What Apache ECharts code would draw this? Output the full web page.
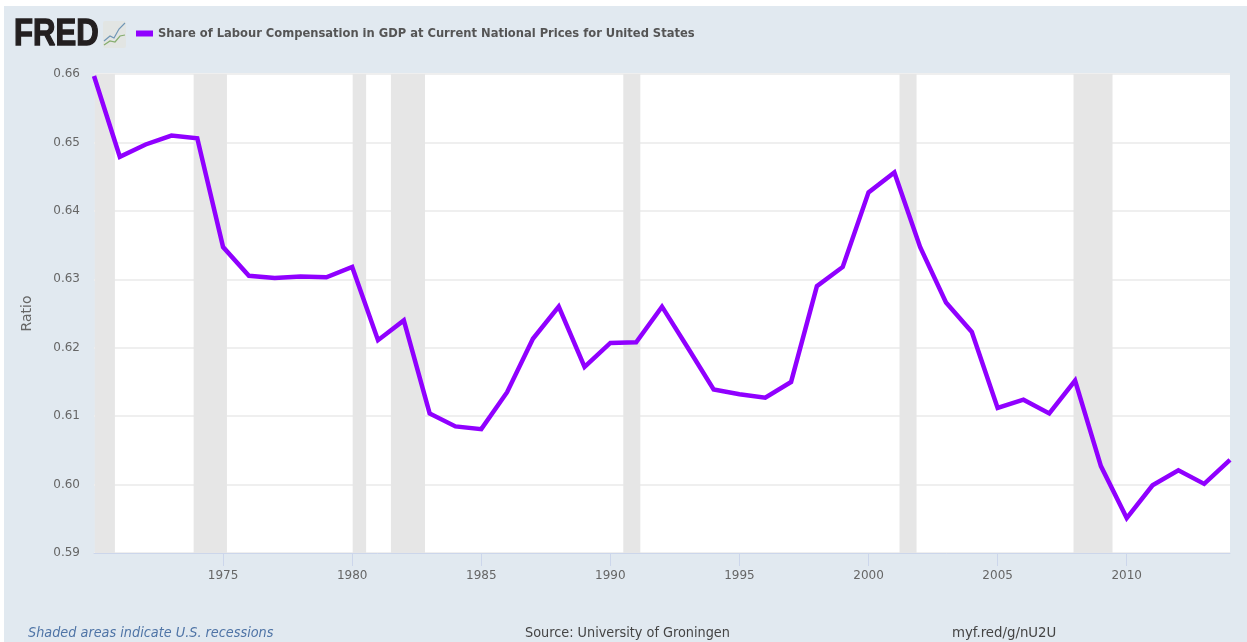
<!DOCTYPE html>
<html><head><meta charset="utf-8">
<style>html,body{margin:0;padding:0;background:#fff}#c{width:1247px;height:642px}</style>
<script src="https://cdn.jsdelivr.net/npm/echarts@6/dist/echarts.min.js"></script>
</head><body><div id="c"></div>
<script>
const years = [1970,1971,1972,1973,1974,1975,1976,1977,1978,1979,1980,1981,1982,1983,1984,1985,1986,1987,1988,1989,1990,1991,1992,1993,1994,1995,1996,1997,1998,1999,2000,2001,2002,2003,2004,2005,2006,2007,2008,2009,2010,2011,2012,2013,2014];
const shareValues = [0.6597,0.6479,0.6497,0.6510,0.6506,0.6347,0.6305,0.6302,0.6304,0.6303,0.6318,0.6211,0.6240,0.6104,0.6085,0.6081,0.6135,0.6213,0.6260,0.6172,0.6207,0.6208,0.6260,0.6200,0.6139,0.6132,0.6127,0.6150,0.6290,0.6318,0.6427,0.6456,0.6347,0.6266,0.6223,0.6112,0.6124,0.6104,0.6152,0.6027,0.5951,0.5999,0.6021,0.6001,0.6036];
const recessions = [[1970.03,1970.81],[1973.86,1975.15],[1980.02,1980.54],[1981.5,1982.82],[1990.5,1991.16],[2001.2,2001.86],[2007.94,2009.45]];
const seriesName = 'Share of Labour Compensation in GDP at Current National Prices for United States';
const chart = echarts.init(document.getElementById('c'));
chart.setOption({
  animation:false,
  backgroundColor:'#fff',
  textStyle:{fontFamily:'"DejaVu Sans"'},
  grid:{left:94,right:17,top:74,height:479,containLabel:false},
  legend:{left:131,top:22,icon:'rect',itemWidth:17,itemHeight:6,itemGap:6,
    textStyle:{fontFamily:'"DejaVu Sans Condensed","DejaVu Sans"',fontWeight:'bold',fontSize:12.8,color:'#555'},
    data:[seriesName]},
  xAxis:{type:'value',min:1970,max:2014,interval:5,
    axisLine:{show:true,lineStyle:{color:'#ccd6eb',width:1}},
    axisTick:{show:true,length:13,lineStyle:{color:'#ccd6eb'}},
    splitLine:{show:false},
    axisLabel:{margin:17,color:'#666',fontSize:12,showMinLabel:false,showMaxLabel:false,formatter:v=>String(v)}},
  yAxis:{type:'value',min:0.59,max:0.66,interval:0.01,name:'Ratio',nameLocation:'middle',nameRotate:90,nameGap:60,
    nameTextStyle:{color:'#666',fontSize:14},
    axisLine:{show:false},axisTick:{show:false},
    splitLine:{show:true,lineStyle:{color:'#efefef',width:2}},
    axisLabel:{margin:14,color:'#666',fontSize:12,formatter:v=>v.toFixed(2)}},
  graphic:{elements:[
    {type:'rect',z:-10,silent:true,shape:{x:4,y:6,width:1243,height:636},style:{fill:'#e1e9f0'}},
    {type:'rect',z:-9,silent:true,shape:{x:95,y:74,width:1135,height:479},style:{fill:'#fff'}},
    {type:'text',x:14,y:16,scaleX:0.84,style:{text:'FRED',x:0,y:0,fontFamily:'"Liberation Sans"',fontWeight:'bold',fontSize:37,fill:'#231f20',stroke:'#231f20',lineWidth:1.4}},
    {type:'rect',shape:{x:103,y:21,width:23,height:27,r:2},style:{fill:'#e2e5e3'}},
    {type:'polyline',shape:{points:[[104,41],[110,36],[114,38],[119,29],[125,23]]},style:{fill:'none',stroke:'#6f95b5',lineWidth:1.2}},
    {type:'polyline',shape:{points:[[104,45],[110,41],[115,42],[120,36],[125,35]]},style:{fill:'none',stroke:'#86ad6e',lineWidth:1.2}},
    {type:'text',left:28,top:626,style:{text:'Shaded areas indicate U.S. recessions',fontFamily:'"DejaVu Sans Condensed","DejaVu Sans"',fontStyle:'italic',fontSize:14.3,fill:'#4f74a6'}},
    {type:'text',left:525,top:626,style:{text:'Source: University of Groningen',fontFamily:'"DejaVu Sans Condensed","DejaVu Sans"',fontSize:14.3,fill:'#444'}},
    {type:'text',left:952,top:626,style:{text:'myf.red/g/nU2U',fontFamily:'"DejaVu Sans Condensed","DejaVu Sans"',fontSize:14.8,fill:'#444'}}
  ]},
  series:[{name:seriesName,type:'line',data:years.map((y,i)=>[y,shareValues[i]]),
    showSymbol:false,symbol:'none',clip:true,lineStyle:{color:'#9000ff',width:4.5,join:'miter'},itemStyle:{color:'#9000ff'},
    markArea:{silent:true,itemStyle:{color:'#e6e6e6'},data:recessions.map(r=>[{xAxis:r[0]},{xAxis:r[1]}])}}]
});
</script></body></html>
